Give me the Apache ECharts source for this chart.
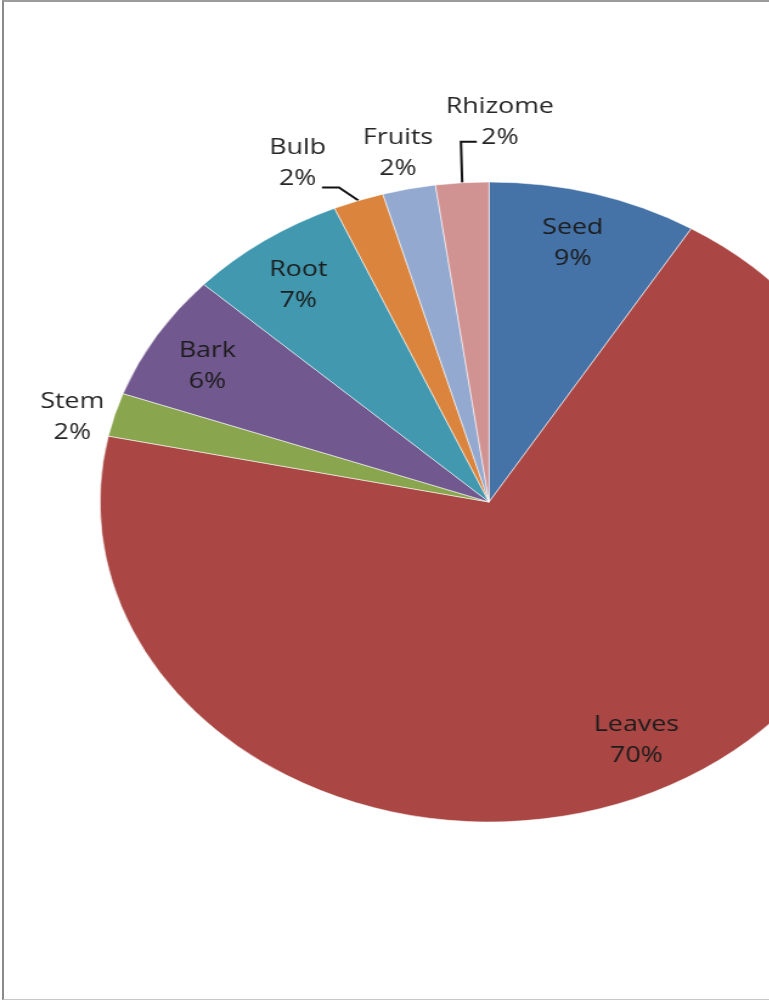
<!DOCTYPE html>
<html>
<head>
<meta charset="utf-8">
<title>Plant parts used</title>
<script src="https://cdn.jsdelivr.net/npm/echarts@6/dist/echarts.min.js"></script>
<style>
  html, body { margin: 0; padding: 0; background: #fff; overflow: hidden; }
  #frame {
    position: absolute; left: 2px; top: 0; width: 900px; height: 997px;
    border-left: 2px solid #8a8a8a; border-top: 2px solid #9c9c9c; border-bottom: 1px solid #c8c8c8;
  }
  /* the reference is stretched sideways, so the chart is drawn narrow and widened */
  #chart {
    position: absolute; left: 0; top: 0; width: 633px; height: 1003px;
    transform: scaleX(1.2156); transform-origin: 0 0;
  }
</style>
</head>
<body>
<div id="frame"></div>
<div id="chart"></div>
<script>
// data (share of each plant part, %)
const parts = ['Seed', 'Leaves', 'Stem', 'Bark', 'Root', 'Bulb', 'Fruits', 'Rhizome'];
const shares = [8.7, 69.6, 2.2, 6.4, 6.6, 2.1, 2.2, 2.2];
const colors = ['#4572A7', '#AA4643', '#89A54E', '#71588F', '#4198AF', '#DB843D', '#93A9CF', '#D19392'];

// which labels sit inside the slice, which outside
const insideLabels = ['Seed', 'Leaves', 'Bark', 'Root'];

// small nudges for the inside labels (Excel does not centre them exactly)
const innerNudges = { Seed: [-4, 1], Leaves: [14, -10], Root: [-1, 4], Bark: [-1, 5] };

// outside label offsets from the slice edge point, and leader line bends
const outerOffsets = { Stem: [-35, 3], Bulb: [-50, -37], Fruits: [-9, -36], Rhizome: [31, -61] };
const leaderBends = { Bulb: [[-16, -13], [-30, -13]], Rhizome: [[-1, -41], [12, -41]] };

const center = [402.3, 502];
const font = { fontFamily: 'Open Sans', fontSize: 22, lineHeight: 31 };

const chart = echarts.init(document.getElementById('chart'), null, { renderer: 'canvas' });

const pieData = parts.map((name, i) => ({
  name: name,
  value: shares[i],
  itemStyle: { color: colors[i] }
}));

const option = {
  backgroundColor: 'transparent',
  animation: false,
  series: [
    {
      // the slices, with the outside labels
      type: 'pie',
      center: center,
      radius: [0, 320],
      startAngle: 90,
      clockwise: true,
      percentPrecision: 0,
      silent: true,
      itemStyle: { borderColor: 'rgba(255,255,255,0.55)', borderWidth: 1 },
      data: pieData.map(d => {
        const outside = !insideLabels.includes(d.name);
        const hasLine = !!leaderBends[d.name];
        return Object.assign({}, d, {
          label: {
            show: outside,
            position: 'outside',
            formatter: '{b}\n{d}%',
            color: '#262626',
            overflow: 'none',
            ...font
          },
          labelLine: {
            show: outside,
            lineStyle: { color: '#111', width: 2, opacity: hasLine ? 1 : 0 }
          }
        });
      }),
      labelLayout: function (params) {
        const name = parts[params.dataIndex];
        const off = outerOffsets[name];
        if (!off || !params.labelLinePoints) return {};
        const p0 = params.labelLinePoints[0];
        const bends = leaderBends[name] || [[0, 0], [0, 0]];
        return {
          x: p0[0] + off[0],
          y: p0[1] + off[1],
          align: 'center',
          verticalAlign: 'middle',
          labelLinePoints: [
            [p0[0], p0[1]],
            [p0[0] + bends[0][0], p0[1] + bends[0][1]],
            [p0[0] + bends[1][0], p0[1] + bends[1][1]]
          ]
        };
      }
    },
    {
      // transparent ring that only carries the inside labels (placed at ~0.83 r)
      type: 'pie',
      center: center,
      radius: [214, 320],
      startAngle: 90,
      clockwise: true,
      percentPrecision: 0,
      silent: true,
      itemStyle: { color: 'rgba(0,0,0,0)' },
      labelLine: { show: false },
      data: pieData.map(d => ({
        name: d.name,
        value: d.value,
        itemStyle: { color: 'rgba(0,0,0,0)' },
        label: {
          show: insideLabels.includes(d.name),
          position: 'inside',
          formatter: '{b}\n{d}%',
          color: '#1c1c1c',
          ...font
        }
      })),
      labelLayout: function (params) {
        const nudge = innerNudges[parts[params.dataIndex]];
        if (!nudge) return {};
        return { dx: nudge[0], dy: nudge[1] };
      }
    }
  ]
};

chart.setOption(option);
</script>
</body>
</html>
